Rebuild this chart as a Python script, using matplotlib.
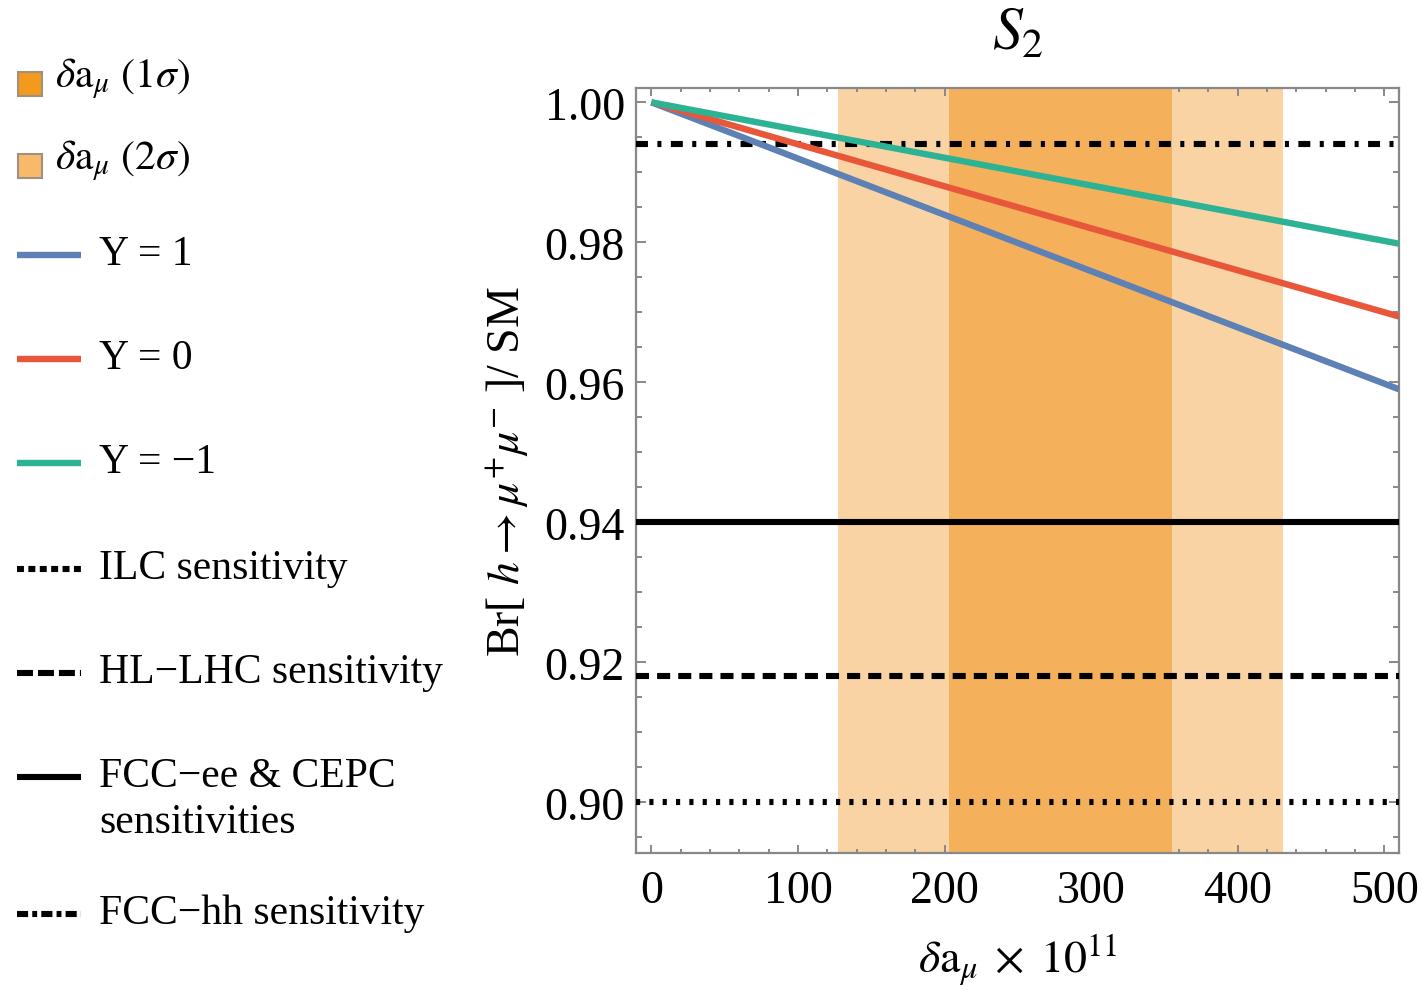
import matplotlib
matplotlib.use("Agg")
import matplotlib.pyplot as plt
from matplotlib.lines import Line2D
from matplotlib.patches import Rectangle
from matplotlib.ticker import MultipleLocator, FixedLocator

# ---- data -------------------------------------------------------------
delta_a = [0, 510]                       # delta a_mu x 10^11
br_y_plus1 = [1.0, 0.9590]               # Y = 1
br_y_zero = [1.0, 0.9694]                # Y = 0
br_y_minus1 = [1.0, 0.9798]              # Y = -1

amu_center = 279                         # delta a_mu central value (x 10^11)
amu_sigma = 76                           # 1 sigma uncertainty

ilc_sens = 0.900
hllhc_sens = 0.918
fccee_sens = 0.940
fcchh_sens = 0.994

x_ticks = [0, 100, 200, 300, 400, 500]
y_ticks = [0.90, 0.92, 0.94, 0.96, 0.98, 1.00]
y_tick_labels = ["0.90", "0.92", "0.94", "0.96", "0.98", "1.00"]

# ---- style ------------------------------------------------------------
plt.rcParams["font.family"] = ["Liberation Serif", "DejaVu Serif"]
plt.rcParams["mathtext.fontset"] = "stix"
plt.rcParams["lines.scale_dashes"] = False

c_blue = "#5E81B5"
c_red = "#E8573A"
c_green = "#2DB394"
c_band1 = "#F5B05C"
c_band2 = "#F9D3A3"
c_frame = "#888888"

W, H = 1422, 987
fig = plt.figure(figsize=(W / 100, H / 100), dpi=100)
ax = fig.add_axes([636 / W, 1 - 854 / H, (1399 - 636) / W, (854 - 89) / H])

# experimental bands
ax.axvspan(amu_center - 2 * amu_sigma, amu_center + 2 * amu_sigma,
           color=c_band2, lw=0, zorder=1)
ax.axvspan(amu_center - amu_sigma, amu_center + amu_sigma,
           color=c_band1, lw=0, zorder=2)

# collider sensitivities
lw_k = 4.4
dot_pat = (0, (3.0, 6.6))
dash_pat = (0, (9.4, 5.8))
dashdot_pat = (0, (8.6, 6.8, 2.9, 6.8))
ax.axhline(ilc_sens, color="black", lw=lw_k, ls=dot_pat, zorder=3)
ax.axhline(hllhc_sens, color="black", lw=lw_k, ls=dash_pat, zorder=3)
ax.axhline(fccee_sens, color="black", lw=lw_k, zorder=3)
ax.axhline(fcchh_sens, color="black", lw=lw_k, ls=dashdot_pat, zorder=3)

# model predictions
lw_c = 4.6
ax.plot(delta_a, br_y_plus1, color=c_blue, lw=lw_c, zorder=4, solid_capstyle="butt")
ax.plot(delta_a, br_y_zero, color=c_red, lw=lw_c, zorder=4, solid_capstyle="butt")
ax.plot(delta_a, br_y_minus1, color=c_green, lw=lw_c, zorder=4, solid_capstyle="butt")

ax.set_xlim(-10.5, 510)
ax.set_ylim(0.89276, 1.00204)

ax.xaxis.set_major_locator(FixedLocator(x_ticks))
ax.xaxis.set_minor_locator(MultipleLocator(20))
ax.yaxis.set_major_locator(FixedLocator(y_ticks))
ax.yaxis.set_minor_locator(MultipleLocator(0.005))
ax.set_yticklabels(y_tick_labels)

for s in ax.spines.values():
    s.set_color(c_frame)
    s.set_linewidth(1.6)
ax.tick_params(axis="both", which="both", direction="in", color=c_frame,
               top=True, right=True, labelsize=33, width=1.4)
ax.tick_params(axis="x", which="major", length=5.5, pad=12)
ax.tick_params(axis="x", which="minor", length=3.2)
ax.tick_params(axis="y", which="major", length=7.5, pad=8)
ax.tick_params(axis="y", which="minor", length=4.5)

ax.set_title(r"$S_2$", fontsize=43, pad=28)
ax.set_xlabel(r"$\delta\mathrm{a}_{\mu}\;\times\;10^{11}$", fontsize=33, labelpad=14)
ax.set_ylabel(r"Br[ $h\rightarrow\mu^{+}\mu^{-}$ ]/ SM", fontsize=33, labelpad=10)

# ---- legend (left column) --------------------------------------------
def fx(px):
    return px / W

def fy(py):
    return 1 - py / H

tsize = 30
# band swatches
for yc, fc, lab in [(86, "#F39A1E", r"$\delta\mathrm{a}_{\mu}$ $(1\sigma)$"),
                    (168, "#F9B96B", r"$\delta\mathrm{a}_{\mu}$ $(2\sigma)$")]:
    fig.patches.append(Rectangle((fx(18), fy(yc + 11)), 24 / W, 24 / H,
                                 transform=fig.transFigure, facecolor=fc,
                                 edgecolor="#A0907F", lw=1.5))
    fig.text(fx(55), fy(yc - 7), lab, fontsize=tsize, va="center", ha="left")

handles = [
    (256, dict(color=c_blue, lw=lw_c), "Y = 1"),
    (360, dict(color=c_red, lw=lw_c), "Y = 0"),
    (464, dict(color=c_green, lw=lw_c), "Y = \u22121"),
    (570, dict(color="black", lw=lw_k, ls=(0, (5.0, 3.2))), "ILC sensitivity"),
    (674, dict(color="black", lw=lw_k, ls=(0, (11.5, 3.6))), "HL\u2212LHC sensitivity"),
    (778, dict(color="black", lw=lw_k), "FCC\u2212ee & CEPC"),
    (915, dict(color="black", lw=lw_k, ls=(0, (8.0, 3.0, 3.5, 3.0))), "FCC\u2212hh sensitivity"),
]
for yc, kw, lab in handles:
    fig.lines.append(Line2D([fx(17), fx(81)], [fy(yc), fy(yc)],
                            transform=fig.transFigure, solid_capstyle="butt",
                            dash_capstyle="butt", **kw))
    fig.text(fx(99), fy(yc - 1), lab, fontsize=tsize, va="center", ha="left")
fig.text(fx(99), fy(823), "sensitivities", fontsize=tsize, va="center", ha="left")

fig.savefig("out.png", dpi=100)
